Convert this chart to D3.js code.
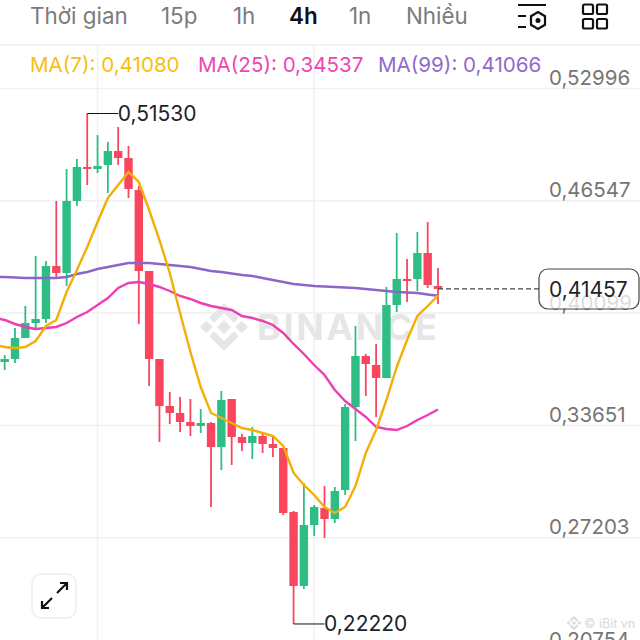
<!DOCTYPE html>
<html>
<head>
  <meta charset="utf-8">
  <script src="https://d3js.org/d3.v7.min.js"></script>
  <style>
    html, body { margin: 0; padding: 0; background: #fff; overflow: hidden; }
    text { font-family: Inter, Roboto, sans-serif; }
  </style>
</head>
<body>
  <script>
    // Candle values, oldest first
    const opens = [.37263,.37435,.38641,.39502,.39732,.42775,.42373,.46508,.48460,.48345,.48575,.49379,.48977,.47139,.42488,.37435,.34736,.34335,.33818,.33588,.33760,.32382,.35138,.32956,.32612,.33014,.32555,.32325,.28650,.24401,.27903,.28880,.28248,.29913,.34679,.37607,.37091,.36344,.40536,.42029,.42029,.43522,.41627];
    const highs = [.37665,.39215,.40478,.43349,.43062,.46508,.48345,.48919,.51530,.50297,.49895,.50757,.49666,.47369,.42488,.37435,.35540,.35253,.35138,.34564,.33818,.35598,.35138,.33129,.33531,.33129,.32956,.32325,.28707,.30315,.29052,.30143,.30085,.34851,.39330,.37722,.38297,.41569,.44670,.43177,.44728,.45302,.42660];
    const lows = [.36804,.37206,.38641,.39215,.39502,.42144,.41627,.46220,.47426,.48115,.46967,.48575,.46680,.39445,.35885,.32669,.33703,.33244,.33014,.33186,.28937,.31062,.31349,.32153,.31693,.32038,.31808,.28478,.22220,.24229,.27272,.27157,.28018,.29626,.32727,.35311,.34105,.36344,.40134,.40708,.41340,.41512,.40593];
    const closes = [.37435,.38641,.39502,.39732,.42775,.42373,.46508,.48460,.48345,.48517,.49379,.48977,.47197,.42488,.37435,.34736,.34335,.33818,.33588,.33760,.32382,.35081,.32956,.32612,.33014,.32555,.32325,.28593,.24401,.27903,.28937,.28248,.29856,.34679,.37607,.37148,.36344,.40536,.42029,.41914,.43522,.41684,.41457];

    // Moving averages, these start one candle before the first visible one
    const ma7 = [.38239,.38124,.38067,.38124,.38469,.39330,.39675,.41282,.42546,.43866,.45302,.46680,.47426,.48173,.47599,.45991,.44268,.42373,.40077,.37837,.35827,.34335,.34047,.33760,.33473,.33358,.33186,.33014,.32440,.30889,.30200,.29626,.28937,.28593,.28937,.30143,.32038,.33358,.35081,.36976,.38526,.39904,.40478,.41080];
    const ma25 = [.39789,.39675,.39445,.39273,.39158,.39215,.39273,.39502,.39847,.40134,.40536,.40938,.41512,.41799,.41857,.41742,.41569,.41340,.41053,.40880,.40651,.40478,.40364,.40249,.39904,.39789,.39617,.39387,.38928,.38297,.37722,.37091,.36516,.35655,.35024,.34564,.34105,.33531,.33416,.33358,.33588,.33933,.34220,.34537];
    const ma99 = [.42144,.42144,.42115,.42086,.42086,.42086,.42086,.42144,.42316,.42431,.42603,.42718,.42833,.42948,.42948,.42948,.42890,.42833,.42775,.42718,.42603,.42488,.42431,.42344,.42258,.42201,.42086,.41971,.41857,.41742,.41684,.41627,.41598,.41569,.41540,.41512,.41455,.41397,.41340,.41282,.41253,.41225,.41139,.41066];

    const priceTicks = [.52996,.46547,.40099,.33651,.27203,.20754];
    const tabs = ["Thời gian","15p","1h","4h","1n","Nhiều"];
    const tabX = [30,161,233,289,349,406];
    const lastPrice = .41457;
    const maxPrice = .51530, minPrice = .22220;

    const green = "#2ebd85", red = "#f9465f";
    const fmt = d => d.toFixed(5).replace(".", ",");

    const svg = d3.select("body").append("svg")
      .attr("width", 640).attr("height", 640)
      .style("display", "block");

    const x = d3.scaleLinear().domain([0, 42]).range([4.7, 438]);
    const y = d3.scaleLinear().domain([.52996, .20754]).range([88, 649.5]);

    // Grid and price labels
    const yAxis = svg.append("g")
      .call(d3.axisRight(y).tickValues(priceTicks).tickFormat(fmt).tickSize(640));
    yAxis.select(".domain").remove();
    yAxis.selectAll("line").attr("stroke", "#f1f1f1").attr("stroke-width", 1.5);
    yAxis.selectAll("text")
      .attr("x", 549).attr("dy", -3.5)
      .attr("fill", "#757575").attr("font-size", 20.5)
      .style("font-family", "Inter, Roboto, sans-serif");

    svg.append("line").attr("x1", 0).attr("x2", 640).attr("y1", 45).attr("y2", 45)
      .attr("stroke", "#f1f1f1").attr("stroke-width", 1.5);
    [9, 30].forEach(i => {
      svg.append("line").attr("x1", x(i)).attr("x2", x(i)).attr("y1", 45).attr("y2", 640)
        .attr("stroke", "#f1f1f1").attr("stroke-width", 1.5);
    });

    // Binance logo, drawn in a frame turned by 45 degrees
    function diamond(g) {
      g.append("rect").attr("x", -5).attr("y", -5).attr("width", 10).attr("height", 10);
      g.append("rect").attr("x", -17).attr("y", 8).attr("width", 9).attr("height", 9);
      g.append("rect").attr("x", 8).attr("y", -17).attr("width", 9).attr("height", 9);
      g.append("path").attr("d", "M-17,-17H4V-10H-10V4H-17Z");
      g.append("path").attr("d", "M17,17H-4V10H10V-4H17Z");
    }

    // Watermark
    svg.append("g").attr("transform", "translate(224,327) rotate(45)").attr("fill", "#e6e6e6").call(diamond);
    svg.append("text").attr("x", 257).attr("y", 340).text("BINANCE")
      .attr("font-size", 36).attr("font-weight", 700).attr("fill", "#e6e6e6")
      .attr("letter-spacing", 2.6);

    // Candles
    const idx = d3.range(opens.length);
    const color = i => closes[i] >= opens[i] ? green : red;
    svg.append("g").selectAll("line").data(idx).join("line")
      .attr("x1", i => x(i)).attr("x2", i => x(i))
      .attr("y1", i => y(highs[i])).attr("y2", i => y(lows[i]))
      .attr("stroke", color).attr("stroke-width", 1.8);
    svg.append("g").selectAll("rect").data(idx).join("rect")
      .attr("x", i => x(i) - 4.2).attr("width", 8.4)
      .attr("y", i => y(Math.max(opens[i], closes[i])))
      .attr("height", i => Math.max(1.5, Math.abs(y(opens[i]) - y(closes[i]))))
      .attr("fill", color);

    // MA lines
    const line = d3.line().x((d, i) => x(i - 1)).y(d => y(d));
    [[ma99, "#8b66c9"], [ma25, "#ec3fb4"], [ma7, "#f2b007"]].forEach(s => {
      svg.append("path").attr("d", line(s[0]))
        .attr("fill", "none").attr("stroke", s[1]).attr("stroke-width", 2.4);
    });

    // High and low markers
    [[8, maxPrice], [28, minPrice]].forEach(m => {
      svg.append("line").attr("x1", x(m[0])).attr("x2", x(m[0]) + 31)
        .attr("y1", y(m[1])).attr("y2", y(m[1])).attr("stroke", "#111").attr("stroke-width", 1);
      svg.append("text").attr("x", x(m[0]) + 30.5).attr("y", y(m[1]) + 7.5)
        .attr("font-size", 21).attr("fill", "#1e2329").text(fmt(m[1]));
    });

    // Last price
    svg.append("line").attr("x1", x(42)).attr("x2", 539)
      .attr("y1", y(lastPrice)).attr("y2", y(lastPrice))
      .attr("stroke", "#444").attr("stroke-dasharray", "5,3").attr("stroke-width", 1.3);
    svg.append("rect").attr("x", 539).attr("y", 269).attr("width", 100).attr("height", 40).attr("rx", 9)
      .attr("fill", "#fff").attr("fill-opacity", .75).attr("stroke", "#444").attr("stroke-width", 1.2);
    svg.append("text").attr("x", 549).attr("y", y(lastPrice) + 8)
      .attr("font-size", 21).attr("fill", "#1e2329").text(fmt(lastPrice));

    // Header tabs
    tabs.forEach((t, i) => {
      svg.append("text").attr("x", tabX[i]).attr("y", 24).text(t)
        .attr("font-size", 22.4)
        .attr("font-weight", t === "4h" ? 600 : 400)
        .attr("fill", t === "4h" ? "#111" : "#7b7b7b");
    });

    // MA legend
    [["MA(7): 0,41080", 30, "#f9bd13"], ["MA(25): 0,34537", 198, "#ee46b5"], ["MA(99): 0,41066", 378, "#8f6bcb"]].forEach(l => {
      svg.append("text").attr("x", l[1]).attr("y", 72).text(l[0])
        .attr("font-size", 20.6).attr("fill", l[2]);
    });

    // Header icons
    const icon = svg.append("g").attr("fill", "none").attr("stroke", "#111").attr("stroke-width", 2.2);
    icon.append("path").attr("d", "M518,5H546M518,16H526M518,27H526");
    icon.append("path").attr("d", "M538,12L545,16.2V24.8L538,29L531,24.8V16.2Z");
    svg.append("circle").attr("cx", 538).attr("cy", 20.5).attr("r", 2.5).attr("fill", "#111");
    [[583,4.5],[597,4.5],[583,19],[597,19]].forEach(p => {
      icon.append("rect").attr("x", p[0]).attr("y", p[1]).attr("width", 10).attr("height", 9.5).attr("rx", 1.5);
    });

    // Expand button
    svg.append("rect").attr("x", 32).attr("y", 574).attr("width", 44).attr("height", 44).attr("rx", 9)
      .attr("fill", "#fff").attr("stroke", "#eeeeee").attr("stroke-width", 1.5);
    const arrows = svg.append("g").attr("stroke", "#111").attr("fill", "none").attr("stroke-width", 2.2);
    arrows.append("path").attr("d", "M57,593L67,583M60,583H67V590");
    arrows.append("path").attr("d", "M52,598L42,608M42,601V608H49");

    // Repost mark
    svg.append("g").attr("transform", "translate(574,623) rotate(45) scale(.3)").attr("fill", "#dcdcdc").call(diamond);
    svg.append("text").attr("x", 584).attr("y", 628).text("© iBit vn")
      .attr("font-size", 12.5).attr("fill", "#d8d8d8");
  </script>
</body>
</html>
